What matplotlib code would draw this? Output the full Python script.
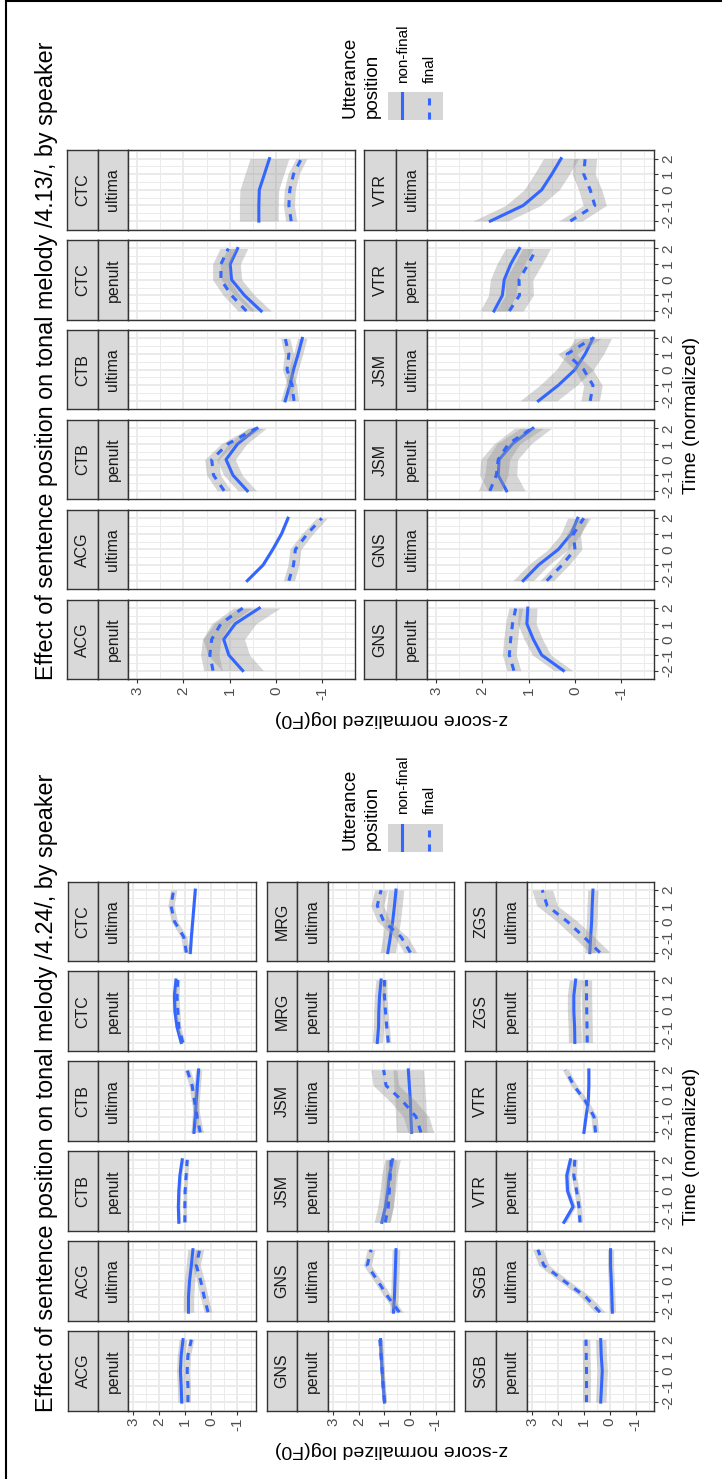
import numpy as np
import matplotlib
matplotlib.use("Agg")
import matplotlib.pyplot as plt
from matplotlib.lines import Line2D
from matplotlib.patches import Rectangle

plt.rcParams['font.family'] = ['Liberation Sans', 'DejaVu Sans']

W, H = 722, 1479

### Data
### ----
TIME = [-2, -1, 0, 1, 2]
TIME_LABELS = ["-2", "-1", "0", "1", "2"]
F0_TICKS = [-1, 0, 1, 2, 3]
F0_LABELS = ["-1", "0", "1", "2", "3"]
SYLLABLES = ["penult", "ultima"]

# tonal melody /4.13/ (facet order: speaker x syllable)
SPEAKERS_413 = ["ACG", "CTB", "CTC", "GNS", "JSM", "VTR"]
NONFINAL_413 = [
    [0.72, 1.02, 1.13, 0.88, 0.36],
    [0.62, 0.28, 0.07, -0.12, -0.26],
    [0.62, 0.93, 1.08, 0.83, 0.41],
    [-0.20, -0.30, -0.38, -0.48, -0.57],
    [0.32, 0.68, 0.96, 0.99, 0.83],
    [0.37, 0.37, 0.36, 0.25, 0.14],
    [0.25, 0.72, 0.90, 1.04, 1.02],
    [1.12, 0.79, 0.36, 0.08, -0.06],
    [1.48, 1.66, 1.64, 1.35, 0.91],
    [0.79, 0.36, 0.00, -0.22, -0.39],
    [1.75, 1.57, 1.53, 1.39, 1.20],
    [1.83, 1.12, 0.72, 0.50, 0.30],
]
FINAL_413 = [
    [1.36, 1.43, 1.39, 1.19, 0.72],
    [-0.28, -0.38, -0.42, -0.68, -0.99],
    [1.12, 1.35, 1.39, 1.04, 0.43],
    [-0.39, -0.35, -0.24, -0.28, -0.20],
    [0.64, 0.96, 1.19, 1.19, 1.03],
    [-0.33, -0.28, -0.30, -0.38, -0.55],
    [1.32, 1.42, 1.39, 1.35, 1.28],
    [0.61, 0.28, 0.00, 0.03, -0.19],
    [1.84, 1.70, 1.66, 1.44, 0.93],
    [-0.33, -0.39, -0.19, 0.17, -0.37],
    [1.42, 1.20, 1.21, 1.01, 0.83],
    [0.10, -0.43, -0.33, -0.19, -0.22],
]
SE_NONFINAL_413 = [0.45, 0.03, 0.20, 0.10, 0.22, 0.42, 0.20, 0.22, 0.40, 0.40, 0.30, 0.38]
SE_FINAL_413 = [0.20, 0.12, 0.15, 0.10, 0.18, 0.12, 0.15, 0.15, 0.25, 0.20, 0.30, 0.25]

# tonal melody /4.24/
SPEAKERS_424 = ["ACG", "CTB", "CTC", "GNS", "JSM", "MRG", "SGB", "VTR", "ZGS"]
NONFINAL_424 = [
    [1.14, 1.16, 1.19, 1.16, 1.09],
    [0.88, 0.88, 0.84, 0.77, 0.71],
    [1.25, 1.27, 1.25, 1.21, 1.12],
    [0.67, 0.62, 0.58, 0.54, 0.49],
    [1.16, 1.32, 1.40, 1.42, 1.36],
    [0.81, 0.77, 0.72, 0.67, 0.62],
    [1.00, 1.05, 1.09, 1.13, 1.15],
    [0.65, 0.61, 0.59, 0.57, 0.55],
    [1.10, 0.96, 0.87, 0.81, 0.68],
    [-0.06, -0.03, -0.01, 0.03, 0.07],
    [1.28, 1.23, 1.22, 1.19, 1.13],
    [0.87, 0.77, 0.68, 0.61, 0.55],
    [0.35, 0.32, 0.29, 0.33, 0.35],
    [-0.10, -0.08, -0.06, -0.03, -0.03],
    [1.77, 1.42, 1.63, 1.66, 1.52],
    [1.00, 0.92, 0.83, 0.81, 0.81],
    [1.35, 1.36, 1.39, 1.39, 1.32],
    [0.77, 0.74, 0.70, 0.68, 0.65],
]
FINAL_424 = [
    [0.90, 0.90, 0.93, 0.90, 0.77],
    [0.13, 0.28, 0.41, 0.58, 0.45],
    [1.02, 1.02, 1.01, 0.97, 0.93],
    [0.43, 0.55, 0.65, 0.74, 0.93],
    [1.10, 1.25, 1.29, 1.32, 1.29],
    [0.96, 1.06, 1.42, 1.55, 1.45],
    [1.00, 1.05, 1.09, 1.13, 1.18],
    [0.42, 0.87, 1.26, 1.67, 1.52],
    [0.97, 0.85, 0.81, 0.77, 0.74],
    [-0.42, -0.23, 0.29, 0.94, 1.03],
    [0.85, 0.91, 0.96, 1.00, 1.00],
    [-0.01, 0.35, 1.03, 1.28, 1.13],
    [0.90, 0.90, 0.90, 0.91, 0.92],
    [0.38, 0.94, 1.77, 2.55, 2.78],
    [1.15, 1.19, 1.28, 1.39, 1.35],
    [0.55, 0.61, 0.94, 1.39, 1.71],
    [0.87, 0.88, 0.89, 0.90, 0.90],
    [0.38, 1.00, 1.65, 2.42, 2.61],
]
SE_NONFINAL_424 = [0.15, 0.20, 0.07, 0.12, 0.08, 0.05, 0.08, 0.15, 0.30,
                   0.60, 0.20, 0.30, 0.20, 0.12, 0.10, 0.05, 0.25, 0.20]
SE_FINAL_424 = [0.10, 0.15, 0.07, 0.12, 0.08, 0.12, 0.08, 0.15, 0.20,
                0.50, 0.10, 0.25, 0.15, 0.20, 0.10, 0.12, 0.20, 0.40]

BLUE = "#3366FF"
RIBBON = "#999999"
DARK = "#333333"
GRID = "#EBEBEB"

fig = plt.figure(figsize=(W / 100, H / 100), dpi=100)


def add_ax(x0, y0, x1, y1):
    # pixel box (top-left origin) -> figure axes
    return fig.add_axes([x0 / W, 1 - y1 / H, (x1 - x0) / W, (y1 - y0) / H])


def ftext(x, y, s, **kw):
    fig.text(x / W, 1 - y / H, s, **kw)


def strip(x0, x1, y0, y1, label):
    ax = add_ax(x0, y0, x1, y1)
    ax.set_facecolor("#D9D9D9")
    ax.set_xticks([])
    ax.set_yticks([])
    for sp in ax.spines.values():
        sp.set_color(DARK)
        sp.set_linewidth(1.0)
    ax.text(0.5, 0.5, label, rotation=90, ha="center", va="center",
            transform=ax.transAxes, fontsize=11.5, color="#1A1A1A")


def panel(x0, x1, y0, y1, nf, fn, se_nf, se_fn, show_f0, show_time):
    ax = add_ax(x0, y0, x1, y1)
    ax.set_xlim(3.2, -1.71)
    ax.set_ylim(-2.55, 2.55)
    ax.set_xticks(F0_TICKS)
    ax.set_xticks([-1.5, -0.5, 0.5, 1.5, 2.5], minor=True)
    ax.set_yticks(TIME)
    ax.set_yticks([-2.5, -1.5, -0.5, 0.5, 1.5, 2.5], minor=True)
    ax.set_axisbelow(True)
    ax.grid(which="major", color=GRID, lw=1.4)
    ax.grid(which="minor", color=GRID, lw=0.7)
    ax.tick_params(which="minor", length=0)
    ax.tick_params(which="major", length=3, width=0.8, color=DARK,
                   labelsize=11, labelcolor="#4D4D4D", pad=2)
    for sp in ax.spines.values():
        sp.set_color(DARK)
        sp.set_linewidth(1.0)

    if show_f0:
        ax.set_xticklabels(F0_LABELS, rotation=90)
    else:
        ax.tick_params(axis="x", bottom=False, labelbottom=False)
    if show_time:
        ax.yaxis.tick_right()
        ax.set_yticklabels(TIME_LABELS, rotation=90, va="center")
    else:
        ax.tick_params(axis="y", left=False, labelleft=False)

    nf = np.array(nf)
    fn = np.array(fn)
    ax.fill_betweenx(TIME, nf - se_nf, nf + se_nf, color=RIBBON, alpha=0.4, lw=0, zorder=2)
    ax.plot(nf, TIME, color=BLUE, lw=2.2, zorder=3)
    ax.fill_betweenx(TIME, fn - se_fn, fn + se_fn, color=RIBBON, alpha=0.4, lw=0, zorder=4)
    ax.plot(fn, TIME, color=BLUE, lw=2.2, ls=(0, (2.3, 2.3)), zorder=5)


def legend(oy):
    ftext(350, oy + 118, "Utterance", rotation=90, rotation_mode="anchor",
          ha="left", va="center", fontsize=13.5)
    ftext(372, oy + 118, "position", rotation=90, rotation_mode="anchor",
          ha="left", va="center", fontsize=13.5)
    ax = add_ax(388, oy + 92, 443, oy + 120)
    ax.set_xlim(0, 2)
    ax.set_ylim(0, 1)
    ax.axis("off")
    for i, ls in enumerate(["-", (0, (2.3, 2.3))]):
        ax.add_patch(Rectangle((i, 0), 1, 1, color=RIBBON, alpha=0.4, lw=0))
        ax.plot([i + 0.5, i + 0.5], [0.03, 0.97], color=BLUE, lw=2.2, ls=ls)
    ftext(403, oy + 83, "non-final", rotation=90, rotation_mode="anchor",
          ha="left", va="center", fontsize=11)
    ftext(430, oy + 83, "final", rotation=90, rotation_mode="anchor",
          ha="left", va="center", fontsize=11)


def draw_plot(title, speakers, nonfinal, final, se_nf, se_fn, rows, oy):
    ftext(46, oy + 680, title, rotation=90, rotation_mode="anchor",
          ha="left", va="center", fontsize=16.8)
    labels = [(s, syl) for s in speakers for syl in SYLLABLES]
    for i, (spk, syl) in enumerate(labels):
        r, j = divmod(i, 6)
        xa, xb, xc, xd = rows[r]
        k = 5 - j
        y0 = oy + 150 + 89.9 * k
        y1 = y0 + 79.7
        strip(xa, xb, y0, y1, spk)
        strip(xb, xc, y0, y1, syl)
        panel(xc, xd, y0, y1, nonfinal[i], final[i], se_nf[i], se_fn[i],
              show_f0=(k == 5), show_time=(r == len(rows) - 1))
    ftext(391, oy + 718, "z-score normalized log(F0)", rotation=180,
          ha="center", va="center", fontsize=14)
    ftext(692, oy + 415, "Time (normalized)", rotation=90,
          ha="center", va="center", fontsize=14)
    legend(oy)


rows_413 = [(67, 98, 128, 355), (364, 396, 427, 654)]
rows_424 = [(68, 98, 128, 256), (267, 297, 328, 454), (465, 496, 527, 654)]

draw_plot("Effect of sentence position on tonal melody /4.13/, by speaker",
          SPEAKERS_413, NONFINAL_413, FINAL_413, SE_NONFINAL_413, SE_FINAL_413,
          rows_413, 0)
draw_plot("Effect of sentence position on tonal melody /4.24/, by speaker",
          SPEAKERS_424, NONFINAL_424, FINAL_424, SE_NONFINAL_424, SE_FINAL_424,
          rows_424, 731.5)

# page frame (left and top edge)
fig.add_artist(Line2D([6 / W, 6 / W], [0, 1 - 1 / H], color="black", lw=1.5))
fig.add_artist(Line2D([6 / W, 1], [1 - 1 / H, 1 - 1 / H], color="black", lw=1.5))

fig.savefig("out.png", dpi=100)
